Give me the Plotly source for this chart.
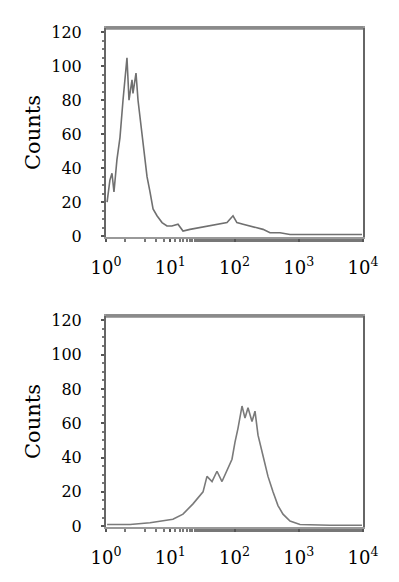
import plotly.graph_objects as go

# Top histogram (fluorescence intensity, counts)
top_x = [1.04, 1.15, 1.24, 1.33, 1.48, 1.65, 1.84, 2.05, 2.12, 2.28, 2.54, 2.63, 2.93, 3.15,
         3.38, 3.77, 4.35, 4.84, 5.40, 6.22, 7.45, 8.89, 10.6, 13.2, 15.8, 20.3, 29.0, 41.6,
         59.4, 76.4, 94.8, 109, 136, 174, 224, 278, 357, 511, 731, 1500, 4390, 9640]
top_y = [20, 33, 37, 26, 45, 58, 80, 98, 105, 80, 92, 84, 96, 80,
         70, 53, 35, 26, 16, 12, 8, 6, 6, 7, 3, 4, 5, 6,
         7, 8, 12, 8, 7, 6, 5, 4, 2, 2, 1, 1, 1, 1]

# Bottom histogram
bot_x = [1.04, 2.37, 4.84, 6.92, 11.0, 15.8, 22.6, 32.4, 37.3, 44.7, 53.4, 63.9, 76.4, 91.4,
         101.8, 113.3, 130.9, 145.7, 162.3, 187.2, 208.5, 232.3, 277.8, 332.1, 397.3, 475.1,
         568.2, 731.1, 1045, 3064, 9638]
bot_y = [1, 1, 2, 3, 4, 7, 13, 20, 29, 26, 32, 26, 33, 39,
         49, 57, 70, 63, 69, 61, 67, 53, 41, 29, 20, 12,
         7, 3, 1, 0.5, 0.5]

x_tickvals = [1, 10, 100, 1000, 10000]
x_ticktext = ["10<sup>0</sup>", "10<sup>1</sup>", "10<sup>2</sup>", "10<sup>3</sup>", "10<sup>4</sup>"]
y_tickvals = [0, 20, 40, 60, 80, 100, 120]
y_title = "Counts"

W, H = 399, 582
OFF = 8  # page body margin offset
FONT = "DejaVu Serif"
AX = "#666666"

fig = go.Figure()
fig.add_trace(go.Scatter(x=top_x, y=top_y, mode="lines", xaxis="x", yaxis="y",
                         line=dict(color="#707070", width=1.6), showlegend=False))
fig.add_trace(go.Scatter(x=bot_x, y=bot_y, mode="lines", xaxis="x2", yaxis="y2",
                         line=dict(color="#7a7a7a", width=1.6), showlegend=False))

xdom = [(106 - OFF) / W, (363 - OFF) / W]
ydom_top = [1 - (237 - OFF) / H, 1 - (28 - OFF) / H]
ydom_bot = [1 - (527 - OFF) / H, 1 - (316 - OFF) / H]


def xaxis(anchor):
    return dict(type="log", domain=xdom, anchor=anchor, range=[0, 4], automargin=False,
                tickvals=x_tickvals, ticktext=x_ticktext,
                tickfont=dict(family=FONT, size=18, color="black"),
                ticks="outside", ticklen=3, tickwidth=2, tickcolor="#555",
                ticklabelstandoff=10,
                minor=dict(ticks="outside", ticklen=3, tickwidth=2, tickcolor="#777", showgrid=False),
                showline=True, linecolor="#999", linewidth=2, mirror=True,
                showgrid=False, zeroline=False)


def yaxis(anchor, dom):
    return dict(domain=dom, anchor=anchor, range=[-0.5, 122.5], automargin=False,
                tickvals=y_tickvals, ticks="outside", ticklen=3, tickwidth=2, tickcolor="#555",
                tickfont=dict(family=FONT, size=16, color="black"),
                ticklabelstandoff=16,
                minor=dict(ticks="outside", dtick=5, ticklen=2, tickwidth=2, tickcolor="#777", showgrid=False),
                title=dict(text=y_title, font=dict(family=FONT, size=21, color="black"), standoff=5),
                showline=True, linecolor=AX, linewidth=2, mirror=True,
                showgrid=False, zeroline=False)


fig.update_layout(
    width=W, height=H,
    margin=dict(l=0, r=0, t=0, b=0),
    paper_bgcolor="white", plot_bgcolor="white",
    xaxis=xaxis("y"), yaxis=yaxis("x", ydom_top),
    xaxis2=xaxis("y2"), yaxis2=yaxis("x2", ydom_bot),
)

# thicker grey top frame edge as in the scan
for yref in ["y domain", "y2 domain"]:
    xr = "x domain" if yref == "y domain" else "x2 domain"
    fig.add_shape(type="line", xref=xr, yref=yref, x0=0, x1=1, y0=1, y1=1,
                  line=dict(color="#8a8a8a", width=3.5))

fig.write_html("out.html")
